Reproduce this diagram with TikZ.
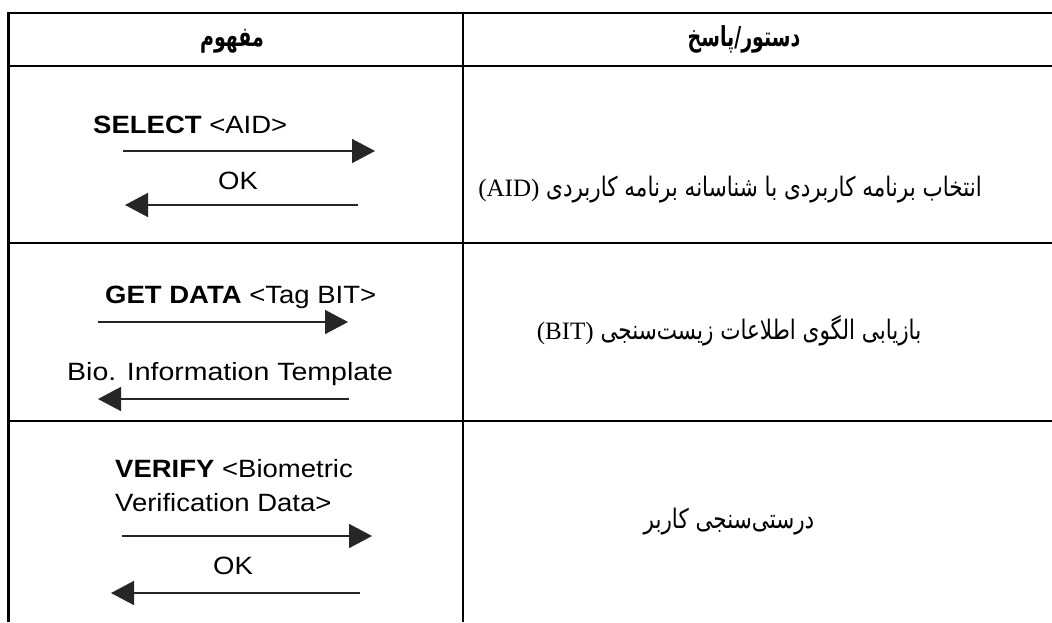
\documentclass[tikz,border=0pt]{standalone}
\usepackage{fontspec}
\usepackage{graphicx}
\usetikzlibrary{arrows.meta}
\TeXXeTstate=1
\newfontfamily\arialx[FakeStretch=1.1]{Liberation Sans}
\newfontfamily\fa[Script=Arabic]{DejaVu Sans}
\newfontfamily\romanx{Liberation Serif}
% taller Persian lines, as in a naskh face
\newcommand{\tallfa}[2]{\scalebox{1}[#1]{#2}}
\newcommand{\latinpart}[1]{{\romanx\fontsize{25}{28}\selectfont #1}}
\tikzset{
  grid/.style={line width=2.4pt, black},
  msg/.style={line width=1.6pt, draw=black!85, -{Triangle[length=23pt,width=24pt]}},
  lbl/.style={inner sep=0pt, anchor=base west, font=\arialx\fontsize{25}{28}\selectfont},
  fatext/.style={inner sep=0pt, anchor=base, font=\fa\fontsize{21.5}{26}\selectfont},
  fahead/.style={inner sep=0pt, anchor=base, font=\fa\bfseries\fontsize{19}{24}\selectfont},
}
\begin{document}
\begin{tikzpicture}[x=1pt,y=-1pt]
\useasboundingbox (0,0) rectangle (1052,622);
\fill[white] (0,0) rectangle (1052,622);

% table rules
\coordinate (tl) at (8.5,13);
\coordinate (tr) at (1052,13);
\coordinate (h1) at (8.5,66);
\coordinate (h2) at (1052,66);
\coordinate (r1a) at (8.5,243);
\coordinate (r1b) at (1052,243);
\coordinate (r2a) at (8.5,421);
\coordinate (r2b) at (1052,421);
\coordinate (bl) at (8.5,622);
\coordinate (mt) at (463,13);
\coordinate (mb) at (463,622);
\draw[grid] (bl) -- (tl) -- (tr);
\draw[grid] (h1) -- (h2);
\draw[grid] (r1a) -- (r1b);
\draw[grid] (r2a) -- (r2b);
\draw[grid] (mt) -- (mb);

% header
\node[fahead] (hconcept) at (232,46) {\tallfa{1.45}{\beginR مفهوم\endR}};
\node[fahead] (hcmd) at (744,46) {\tallfa{1.45}{\beginR دستور/پاسخ\endR}};

% row 1: SELECT (the Latin acronym sits at the left end of the Persian line)
\node[lbl] (sel) at (93,133) {\textbf{SELECT} <AID>};
\coordinate (s1a) at (123,151);
\coordinate (s1b) at (375,151);
\draw[msg] (s1a) -- (s1b);
\node[lbl] (ok1) at (218,189) {OK};
\coordinate (s2a) at (358,205);
\coordinate (s2b) at (125,205);
\draw[msg] (s2a) -- (s2b);
\node[fatext] (t1) at (730,196) {\latinpart{(AID)} \tallfa{1.25}{\beginR انتخاب برنامه کاربردی با شناسانه برنامه کاربردی\endR}};

% row 2: GET DATA
\node[lbl] (get) at (105,303) {\textbf{GET DATA} <Tag BIT>};
\coordinate (g1a) at (98,322);
\coordinate (g1b) at (348,322);
\draw[msg] (g1a) -- (g1b);
\node[lbl] (bio) at (67,380) {\addfontfeature{FakeStretch=1.14}Bio. Information Template};
\coordinate (g2a) at (349,399);
\coordinate (g2b) at (98,399);
\draw[msg] (g2a) -- (g2b);
\node[fatext] (t2) at (729,339) {\latinpart{(BIT)} \tallfa{1.25}{\beginR بازیابی الگوی اطلاعات زیست^^^^200cسنجی\endR}};

% row 3: VERIFY
\node[lbl] (ver) at (115,477) {\textbf{VERIFY} <Biometric};
\node[lbl] (ver2) at (115,511) {Verification Data>};
\coordinate (v1a) at (122,536);
\coordinate (v1b) at (372,536);
\draw[msg] (v1a) -- (v1b);
\node[lbl] (ok3) at (213,574) {OK};
\coordinate (v2a) at (360,593);
\coordinate (v2b) at (111,593);
\draw[msg] (v2a) -- (v2b);
\node[fatext] (t3) at (729,528) {\tallfa{1.25}{\beginR درستی^^^^200cسنجی کاربر\endR}};
\end{tikzpicture}
\end{document}
